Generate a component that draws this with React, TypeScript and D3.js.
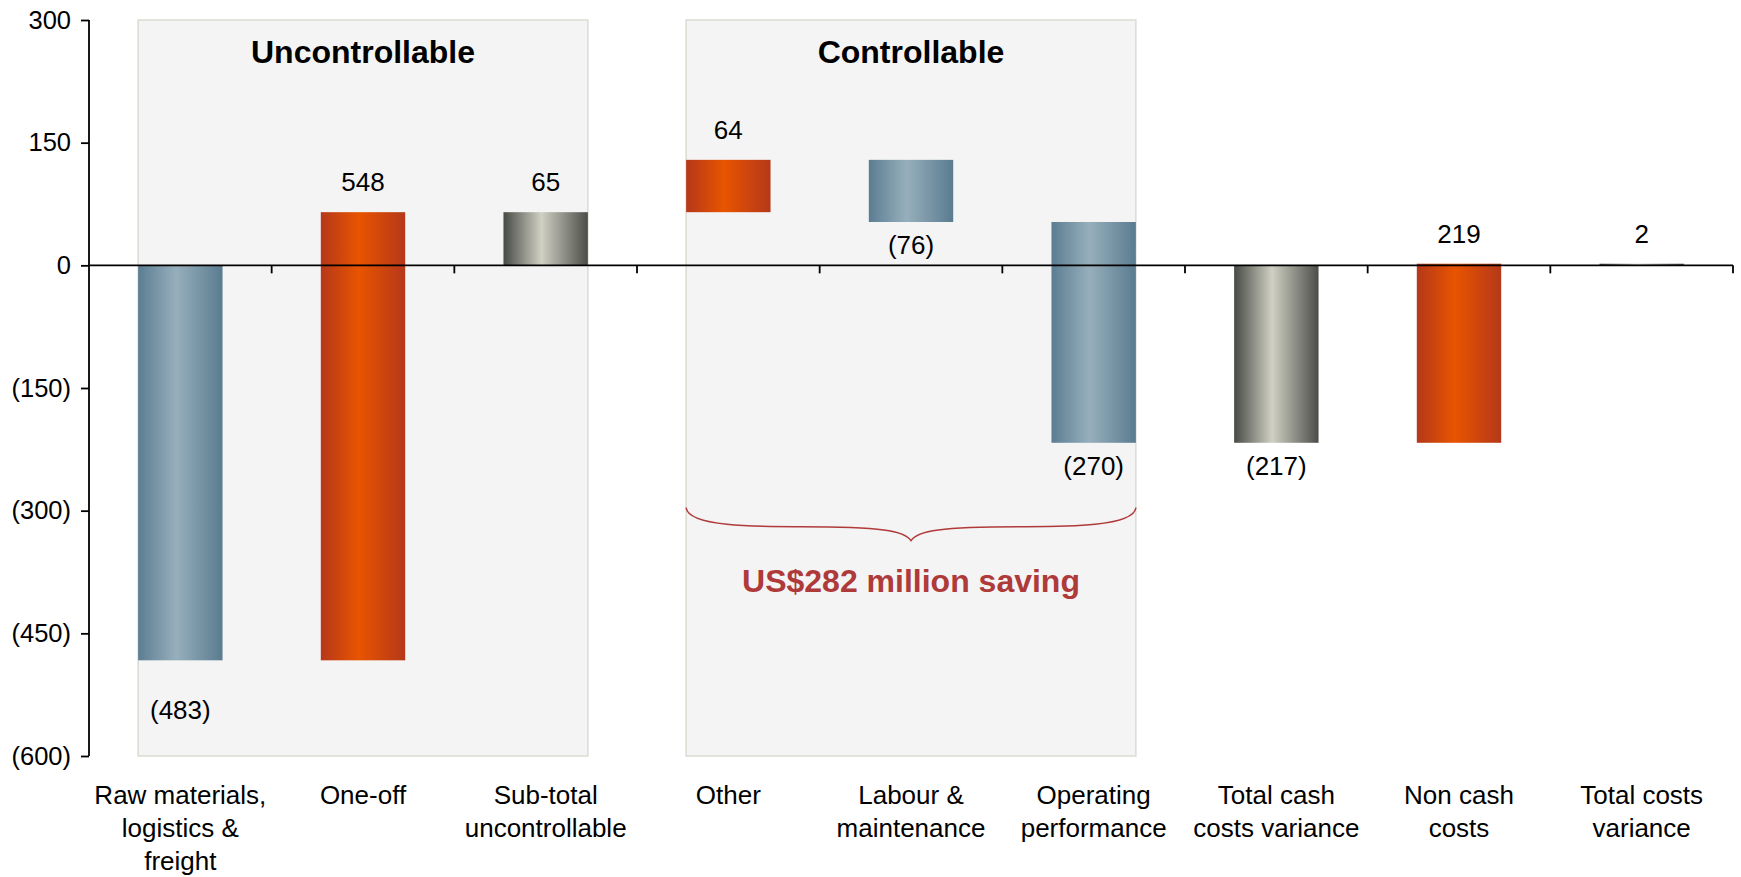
import React, { useRef, useEffect } from "react";
import * as d3 from "d3";

const categories: string[][] = [
    ["Raw materials,", "logistics &", "freight"],
    ["One-off"],
    ["Sub-total", "uncontrollable"],
    ["Other"],
    ["Labour &", "maintenance"],
    ["Operating", "performance"],
    ["Total cash", "costs variance"],
    ["Non cash", "costs"],
    ["Total costs", "variance"],
];
const values = [-483, 548, 65, 64, -76, -270, -217, 219, 2];
const isTotal = [false, false, true, false, false, false, true, false, true];
const yTicks = [300, 150, 0, -150, -300, -450, -600];

const groupTitles = ["Uncontrollable", "Controllable"];
const groupStart = [0, 3];
const groupEnd = [2, 5];
const savingText = "US$282 million saving";

const W = 1741;
const H = 877;

export default function App() {
    const svgRef = useRef<SVGSVGElement>(null);

    useEffect(() => {
        if (!svgRef.current) return;
        const svg = d3.select(svgRef.current);
        svg.selectAll("*").remove();

        const margin = { top: 20, right: 8, bottom: 121, left: 89 };
        const width = W - margin.left - margin.right;
        const height = H - margin.top - margin.bottom;
        const font = "Arial, 'Liberation Sans', sans-serif";

        const g = svg.append("g").attr("transform", `translate(${margin.left},${margin.top})`);

        const x = d3.scaleBand<number>()
            .domain(d3.range(values.length))
            .range([0, width])
            .paddingInner(0.538)
            .paddingOuter(0.269);

        const y = d3.scaleLinear().domain([-600, 300]).range([height, 0]);

        // waterfall steps
        let running = 0;
        const bars = values.map((v, i) => {
            let start: number, end: number;
            if (isTotal[i]) {
                start = 0;
                end = v;
            } else {
                start = running;
                end = running + v;
            }
            running = end;
            return { i, v, start, end, total: isTotal[i] };
        });

        // gradients
        const defs = svg.append("defs");
        const grads: Record<string, string[]> = {
            blue: ["#5b7d92", "#97afbc", "#5a7b90"],
            orange: ["#b5381a", "#e85400", "#b5381a"],
            gray: ["#474a45", "#d0d0c3", "#4b4d48"],
        };
        Object.entries(grads).forEach(([k, c]) => {
            const lg = defs.append("linearGradient").attr("id", `grad-${k}`).attr("x1", 0).attr("x2", 1).attr("y1", 0).attr("y2", 0);
            lg.append("stop").attr("offset", "0%").attr("stop-color", c[0]);
            lg.append("stop").attr("offset", "45%").attr("stop-color", c[1]);
            lg.append("stop").attr("offset", "100%").attr("stop-color", c[2]);
        });

        // group boxes
        groupTitles.forEach((t, k) => {
            const x0 = x(groupStart[k])!;
            const x1 = x(groupEnd[k])! + x.bandwidth();
            g.append("rect")
                .attr("x", x0)
                .attr("y", y(300))
                .attr("width", x1 - x0)
                .attr("height", y(-600) - y(300))
                .attr("fill", "#f4f4f4")
                .attr("stroke", "#dcdcd4")
                .attr("stroke-width", 1.5);
            g.append("text")
                .attr("x", (x0 + x1) / 2)
                .attr("y", y(300) + 32)
                .attr("dy", "0.35em")
                .attr("text-anchor", "middle")
                .attr("font-family", font)
                .attr("font-weight", "bold")
                .attr("font-size", 32)
                .attr("fill", "#000")
                .text(t);
        });

        // brace under controllable group
        {
            const x0 = x(groupStart[1])!;
            const x1 = x(groupEnd[1])! + x.bandwidth();
            const xm = (x0 + x1) / 2;
            const top = y(-300) - 3;
            const mid = top + 19;
            const tip = top + 33;
            const path = d3.path();
            path.moveTo(x0, top);
            path.bezierCurveTo(x0 + 2, mid, x0 + 70, mid, x0 + 110, mid);
            path.lineTo(xm - 110, mid);
            path.bezierCurveTo(xm - 30, mid, xm - 6, mid + 4, xm, tip);
            path.bezierCurveTo(xm + 6, mid + 4, xm + 30, mid, xm + 110, mid);
            path.lineTo(x1 - 110, mid);
            path.bezierCurveTo(x1 - 70, mid, x1 - 2, mid, x1, top);
            g.append("path")
                .attr("d", path.toString())
                .attr("fill", "none")
                .attr("stroke", "#b03a3a")
                .attr("stroke-width", 1.5);
            g.append("text")
                .attr("x", xm)
                .attr("y", y(-300) + 70)
                .attr("dy", "0.35em")
                .attr("text-anchor", "middle")
                .attr("font-family", font)
                .attr("font-weight", "bold")
                .attr("font-size", 32)
                .attr("fill", "#ae3a3a")
                .text(savingText);
        }

        // bars
        g.selectAll(".bar")
            .data(bars)
            .enter()
            .append("rect")
            .attr("x", d => x(d.i)!)
            .attr("width", x.bandwidth())
            .attr("y", d => y(Math.max(d.start, d.end)))
            .attr("height", d => Math.abs(y(d.start) - y(d.end)))
            .attr("fill", d => `url(#grad-${d.total ? "gray" : d.v >= 0 ? "orange" : "blue"})`);

        // value labels
        g.selectAll(".vlabel")
            .data(bars)
            .enter()
            .append("text")
            .attr("x", d => x(d.i)! + x.bandwidth() / 2)
            .attr("y", d => d.v >= 0
                ? y(Math.max(d.start, d.end)) - 30
                : y(Math.min(d.start, d.end)) + (d.i === 0 ? 50 : 23))
            .attr("dy", "0.35em")
            .attr("text-anchor", "middle")
            .attr("font-family", font)
            .attr("font-size", 26)
            .attr("fill", "#000")
            .text(d => d.v < 0 ? `(${Math.abs(d.v)})` : `${d.v}`);

        // y axis
        const yAxis = g.append("g")
            .call(d3.axisLeft(y).tickValues(yTicks).tickSize(8).tickPadding(10)
                .tickFormat(d => (+d < 0 ? `(${Math.abs(+d)})` : `${d}`)));
        yAxis.select(".domain").attr("stroke", "#000").attr("stroke-width", 1.8).attr("d", `M0,${y(300)}V${y(-600)}`);
        yAxis.selectAll(".tick line").attr("stroke", "#000").attr("stroke-width", 1.8);
        yAxis.selectAll(".tick text").attr("font-family", font).attr("font-size", 25.5).attr("fill", "#000");

        // x axis at zero
        g.append("line")
            .attr("x1", 0).attr("x2", width)
            .attr("y1", y(0)).attr("y2", y(0))
            .attr("stroke", "#000").attr("stroke-width", 1.8);
        d3.range(1, values.length + 1).forEach(k => {
            const xt = (width / values.length) * k;
            g.append("line")
                .attr("x1", xt).attr("x2", xt)
                .attr("y1", y(0)).attr("y2", y(0) + 8)
                .attr("stroke", "#000").attr("stroke-width", 1.8);
        });

        // category labels
        categories.forEach((lines, i) => {
            const t = g.append("text")
                .attr("x", x(i)! + x.bandwidth() / 2)
                .attr("y", height + 39)
                .attr("text-anchor", "middle")
                .attr("font-family", font)
                .attr("font-size", 26)
                .attr("fill", "#000");
            lines.forEach((l, j) => {
                t.append("tspan")
                    .attr("x", x(i)! + x.bandwidth() / 2)
                    .attr("dy", j === 0 ? "0.35em" : 33)
                    .text(l);
            });
        });
    }, []);

    return (
        <div style={{ position: "absolute", left: 0, top: 0, width: W, height: H, background: "#fff" }}>
            <svg ref={svgRef} width={W} height={H} />
        </div>
    );
}
